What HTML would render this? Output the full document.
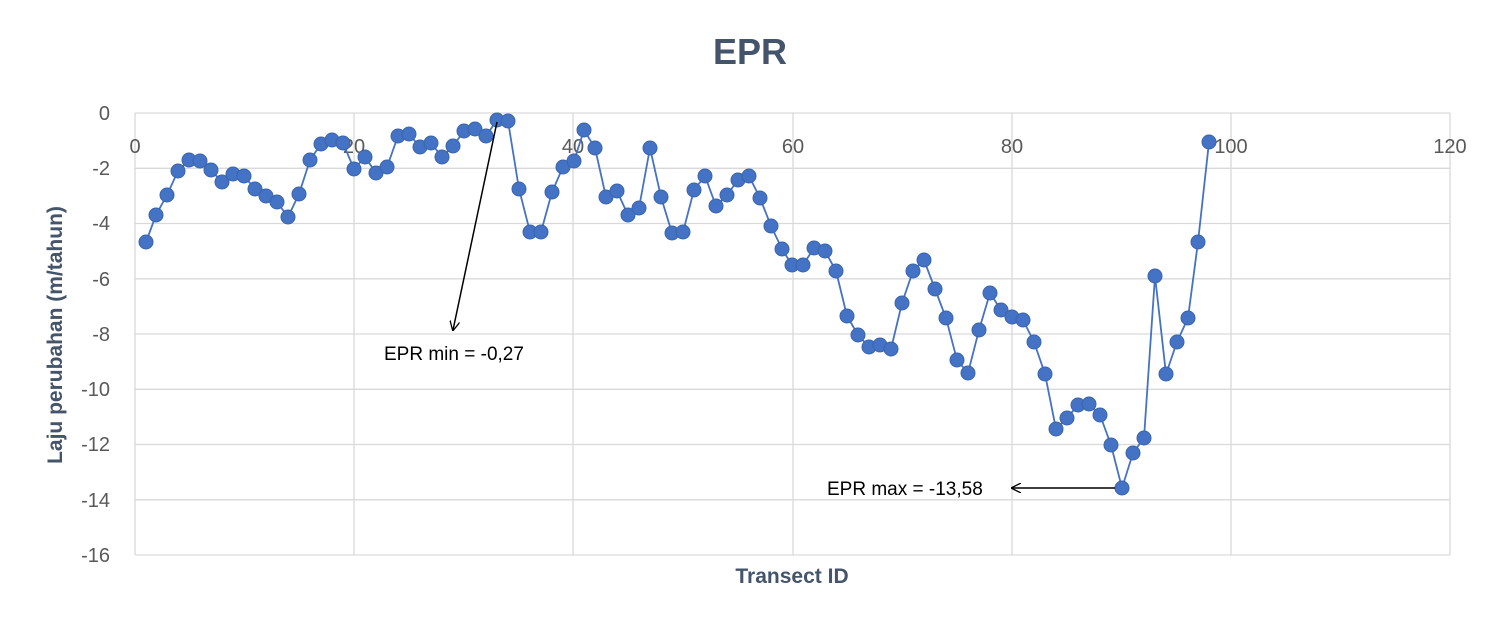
<!DOCTYPE html>
<html><head><meta charset="utf-8"><style>
html,body{margin:0;padding:0;background:#fff;}
svg{display:block;font-family:"Liberation Sans",sans-serif;}
</style></head><body>
<svg width="1500" height="626" viewBox="0 0 1500 626" xmlns="http://www.w3.org/2000/svg">
<defs><marker id="ah" markerWidth="10" markerHeight="10" refX="9" refY="5" orient="auto" markerUnits="userSpaceOnUse"><path d="M0,0 L10,5 L0,10" fill="none" stroke="#000" stroke-width="1.3"/></marker></defs>
<text x="750" y="64" text-anchor="middle" font-size="36" font-weight="bold" fill="#44546A">EPR</text>
<g stroke="#D9D9D9" stroke-width="1.3">
<line x1="135" y1="168.3" x2="1450" y2="168.3"/><line x1="135" y1="223.5" x2="1450" y2="223.5"/>
<line x1="135" y1="278.8" x2="1450" y2="278.8"/><line x1="135" y1="334" x2="1450" y2="334"/>
<line x1="135" y1="389.3" x2="1450" y2="389.3"/><line x1="135" y1="444.5" x2="1450" y2="444.5"/>
<line x1="135" y1="499.8" x2="1450" y2="499.8"/><line x1="135" y1="555" x2="1450" y2="555"/>
<line x1="354" y1="113" x2="354" y2="555"/><line x1="573" y1="113" x2="573" y2="555"/>
<line x1="793" y1="113" x2="793" y2="555"/><line x1="1012" y1="113" x2="1012" y2="555"/>
<line x1="1231" y1="113" x2="1231" y2="555"/><line x1="1450" y1="113" x2="1450" y2="555"/>
<line x1="135" y1="113" x2="135" y2="555"/><line x1="135" y1="113" x2="1450" y2="113"/>
</g>
<g font-size="20" fill="#595959" text-anchor="end">
<text x="110" y="120">0</text><text x="110" y="175">-2</text><text x="110" y="230">-4</text><text x="110" y="286">-6</text><text x="110" y="341">-8</text><text x="110" y="396">-10</text><text x="110" y="451">-12</text><text x="110" y="507">-14</text><text x="110" y="562">-16</text>
</g>
<g font-size="20" fill="#595959" text-anchor="middle">
<text x="135" y="153">0</text><text x="354" y="153">20</text><text x="573" y="153">40</text><text x="793" y="153">60</text><text x="1012" y="153">80</text><text x="1231" y="153">100</text><text x="1450" y="153">120</text>
</g>
<text x="792" y="583" text-anchor="middle" font-size="21" font-weight="bold" fill="#44546A">Transect ID</text>
<text transform="translate(62,335) rotate(-90)" text-anchor="middle" font-size="21" font-weight="bold" fill="#44546A">Laju perubahan (m/tahun)</text>
<polyline fill="none" stroke="#4472C4" stroke-width="1.8" points="146,242 156,215 167,195 178,171 189,160 200,161 211,170 222,182 233,174 244,176 255,189 266,196 277,202 288,217 299,194 310,160 321,144 332,140 343,143 354,169 365,157 376,173 387,167 398,136 409,134 420,147 431,143 442,157 453,146 464,131 475,129 486,136 497,120 508,121 519,189 530,232 541,232 552,192 563,167 574,161 584,130 595,148 606,197 617,191 628,215 639,208 650,148 661,197 672,233 683,232 694,190 705,176 716,206 727,195 738,180 749,176 760,198 771,226 782,249 792,265 803,265 814,248 825,251 836,271 847,316 858,335 869,347 880,345 891,349 902,303 913,271 924,260 935,289 946,318 957,360 968,373 979,330 990,293 1001,310 1012,317 1023,320 1034,342 1045,374 1056,429 1067,418 1078,405 1089,404 1100,415 1111,445 1122,488 1133,453 1144,438 1155,276 1166,374 1177,342 1188,318 1198,242 1209,142"/>
<g fill="#4472C4" stroke="#3A64AE" stroke-width="1">
<circle cx="146" cy="242" r="7"/><circle cx="156" cy="215" r="7"/><circle cx="167" cy="195" r="7"/><circle cx="178" cy="171" r="7"/><circle cx="189" cy="160" r="7"/><circle cx="200" cy="161" r="7"/><circle cx="211" cy="170" r="7"/><circle cx="222" cy="182" r="7"/><circle cx="233" cy="174" r="7"/><circle cx="244" cy="176" r="7"/><circle cx="255" cy="189" r="7"/><circle cx="266" cy="196" r="7"/><circle cx="277" cy="202" r="7"/><circle cx="288" cy="217" r="7"/><circle cx="299" cy="194" r="7"/><circle cx="310" cy="160" r="7"/><circle cx="321" cy="144" r="7"/><circle cx="332" cy="140" r="7"/><circle cx="343" cy="143" r="7"/><circle cx="354" cy="169" r="7"/><circle cx="365" cy="157" r="7"/><circle cx="376" cy="173" r="7"/><circle cx="387" cy="167" r="7"/><circle cx="398" cy="136" r="7"/><circle cx="409" cy="134" r="7"/><circle cx="420" cy="147" r="7"/><circle cx="431" cy="143" r="7"/><circle cx="442" cy="157" r="7"/><circle cx="453" cy="146" r="7"/><circle cx="464" cy="131" r="7"/><circle cx="475" cy="129" r="7"/><circle cx="486" cy="136" r="7"/><circle cx="497" cy="120" r="7"/><circle cx="508" cy="121" r="7"/><circle cx="519" cy="189" r="7"/><circle cx="530" cy="232" r="7"/><circle cx="541" cy="232" r="7"/><circle cx="552" cy="192" r="7"/><circle cx="563" cy="167" r="7"/><circle cx="574" cy="161" r="7"/><circle cx="584" cy="130" r="7"/><circle cx="595" cy="148" r="7"/><circle cx="606" cy="197" r="7"/><circle cx="617" cy="191" r="7"/><circle cx="628" cy="215" r="7"/><circle cx="639" cy="208" r="7"/><circle cx="650" cy="148" r="7"/><circle cx="661" cy="197" r="7"/><circle cx="672" cy="233" r="7"/><circle cx="683" cy="232" r="7"/><circle cx="694" cy="190" r="7"/><circle cx="705" cy="176" r="7"/><circle cx="716" cy="206" r="7"/><circle cx="727" cy="195" r="7"/><circle cx="738" cy="180" r="7"/><circle cx="749" cy="176" r="7"/><circle cx="760" cy="198" r="7"/><circle cx="771" cy="226" r="7"/><circle cx="782" cy="249" r="7"/><circle cx="792" cy="265" r="7"/><circle cx="803" cy="265" r="7"/><circle cx="814" cy="248" r="7"/><circle cx="825" cy="251" r="7"/><circle cx="836" cy="271" r="7"/><circle cx="847" cy="316" r="7"/><circle cx="858" cy="335" r="7"/><circle cx="869" cy="347" r="7"/><circle cx="880" cy="345" r="7"/><circle cx="891" cy="349" r="7"/><circle cx="902" cy="303" r="7"/><circle cx="913" cy="271" r="7"/><circle cx="924" cy="260" r="7"/><circle cx="935" cy="289" r="7"/><circle cx="946" cy="318" r="7"/><circle cx="957" cy="360" r="7"/><circle cx="968" cy="373" r="7"/><circle cx="979" cy="330" r="7"/><circle cx="990" cy="293" r="7"/><circle cx="1001" cy="310" r="7"/><circle cx="1012" cy="317" r="7"/><circle cx="1023" cy="320" r="7"/><circle cx="1034" cy="342" r="7"/><circle cx="1045" cy="374" r="7"/><circle cx="1056" cy="429" r="7"/><circle cx="1067" cy="418" r="7"/><circle cx="1078" cy="405" r="7"/><circle cx="1089" cy="404" r="7"/><circle cx="1100" cy="415" r="7"/><circle cx="1111" cy="445" r="7"/><circle cx="1122" cy="488" r="7"/><circle cx="1133" cy="453" r="7"/><circle cx="1144" cy="438" r="7"/><circle cx="1155" cy="276" r="7"/><circle cx="1166" cy="374" r="7"/><circle cx="1177" cy="342" r="7"/><circle cx="1188" cy="318" r="7"/><circle cx="1198" cy="242" r="7"/><circle cx="1209" cy="142" r="7"/>
</g>
<line x1="497" y1="122" x2="453" y2="330" stroke="#000" stroke-width="1.5" marker-end="url(#ah)"/>
<text x="384" y="360" font-size="19" fill="#000">EPR min = -0,27</text>
<line x1="1115" y1="488" x2="1012" y2="488" stroke="#000" stroke-width="1.5" marker-end="url(#ah)"/>
<text x="827" y="495" font-size="19" fill="#000">EPR max = -13,58</text>
</svg>
</body></html>
